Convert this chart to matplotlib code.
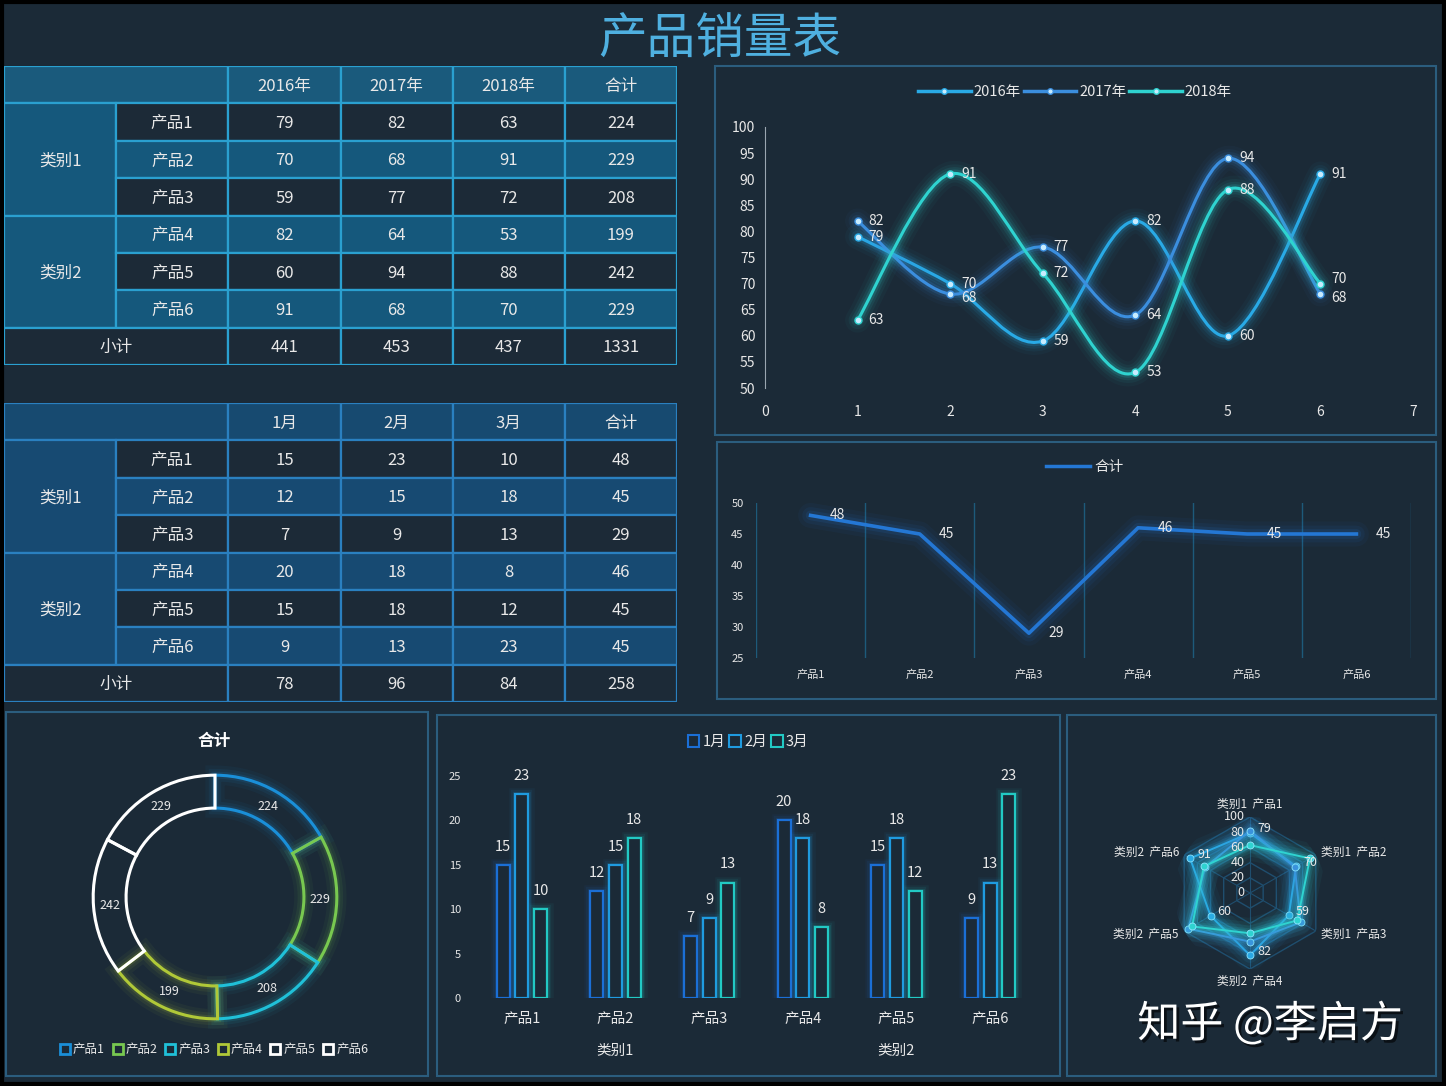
import numpy as np
import matplotlib
matplotlib.use('Agg')
import matplotlib.pyplot as plt
from matplotlib.patches import Rectangle, Patch, PathPatch
from matplotlib.path import Path
from matplotlib.lines import Line2D
import matplotlib.patheffects as pe

plt.rcParams['font.family'] = ['Noto Sans CJK SC', 'DejaVu Sans']

# ---------------- data ----------------
title = '产品销量表'
categories = ['类别1', '类别2']
products = ['产品1', '产品2', '产品3', '产品4', '产品5', '产品6']
product_cats = ['类别1', '类别1', '类别1', '类别2', '类别2', '类别2']
years = ['2016年', '2017年', '2018年']
sales_2016 = [79, 70, 59, 82, 60, 91]
sales_2017 = [82, 68, 77, 64, 94, 68]
sales_2018 = [63, 91, 72, 53, 88, 70]
year_totals = [224, 229, 208, 199, 242, 229]
year_subtotals = [441, 453, 437, 1331]
months = ['1月', '2月', '3月']
month_1 = [15, 12, 7, 20, 15, 9]
month_2 = [23, 15, 9, 18, 18, 13]
month_3 = [10, 18, 13, 8, 12, 23]
month_totals = [48, 45, 29, 46, 45, 45]
month_subtotals = [78, 96, 84, 258]
total_label = '合计'
subtotal_label = '小计'
watermark = '知乎 @李启方'

# ---------------- style ----------------
BG = '#1b2a37'
TXT = '#e8e8e8'
PANEL = '#2b5d7e'
C_YEARS = ['#29aae6', '#3b8ede', '#2fd3d0']
C_LINE2 = '#2477d4'
C_MONTHS = ['#1b6fd6', '#1f9be0', '#22c9c4']
C_DONUT = ['#1a8fd8', '#78c850', '#20c0d8', '#b0c838', '#ffffff', '#ffffff']

W, H = 1446, 1086
fig = plt.figure(figsize=(W / 100, H / 100), dpi=100, facecolor=BG)


def px_axes(x0, y0, x1, y1, **kw):
    return fig.add_axes([x0 / W, 1 - y1 / H, (x1 - x0) / W, (y1 - y0) / H], **kw)


bg = px_axes(0, 0, W, H)
bg.set_xlim(0, W)
bg.set_ylim(H, 0)
bg.axis('off')
bg.set_zorder(-10)
bg.add_patch(Rectangle((2, 2), W - 4, H - 4, fc='none', ec='black', lw=3))
for (x0, y0, x1, y1) in [(715, 66, 1436, 435), (717, 442, 1436, 699), (6, 712, 428, 1076),
                         (437, 715, 1060, 1076), (1067, 715, 1436, 1076)]:
    bg.add_patch(Rectangle((x0, y0), x1 - x0, y1 - y0, fc='none', ec=PANEL, lw=1.5))

fig.text(720 / W, 1 - 40 / H, title, ha='center', va='center', fontsize=35, color='#4fb0e0')


# ---------------- tables ----------------
def draw_table(ax, header, series, totals, subtotals, head_c, blue_c, dark_c, line_c):
    ax.set_xlim(0, 6)
    ax.set_ylim(8, 0)
    ax.axis('off')
    fs = 12

    def cell(x, y, w, h, color, text):
        ax.add_patch(Rectangle((x, y), w, h, fc=color, ec=line_c, lw=1.6))
        if text != '':
            ax.text(x + w / 2, y + h / 2 + 0.04, text, ha='center', va='center', color=TXT, fontsize=fs)

    cell(0, 0, 2, 1, head_c, '')
    for j, h in enumerate(header):
        cell(2 + j, 0, 1, 1, head_c, h)
    for k, c in enumerate(categories):
        cell(0, 1 + 3 * k, 1, 3, blue_c, c)
    for i, p in enumerate(products):
        col = dark_c if i % 2 == 0 else blue_c
        cell(1, 1 + i, 1, 1, col, p)
        for j, s in enumerate(series):
            cell(2 + j, 1 + i, 1, 1, col, str(s[i]))
        cell(5, 1 + i, 1, 1, col, str(totals[i]))
    cell(0, 7, 2, 1, dark_c, subtotal_label)
    for j, v in enumerate(subtotals):
        cell(2 + j, 7, 1, 1, dark_c, str(v))


t1 = px_axes(4, 66, 677, 365)
draw_table(t1, years + [total_label], [sales_2016, sales_2017, sales_2018], year_totals,
           year_subtotals, '#1a5a7c', '#15587c', '#1c2a37', '#2aa0d0')
t2 = px_axes(4, 403, 677, 702)
draw_table(t2, months + [total_label], [month_1, month_2, month_3], month_totals,
           month_subtotals, '#174a70', '#174a72', '#1c2a37', '#2a80c0')


# ---------------- line chart 1 (smooth) ----------------
def smooth_path(xs, ys, t=1 / 6):
    pts = np.column_stack([xs, ys]).astype(float)
    n = len(pts)
    verts = [pts[0]]
    codes = [Path.MOVETO]
    for i in range(n - 1):
        p0 = pts[i - 1] if i > 0 else pts[i]
        p1, p2 = pts[i], pts[i + 1]
        p3 = pts[i + 2] if i + 2 < n else pts[i + 1]
        verts += [p1 + (p2 - p0) * t, p2 - (p3 - p1) * t, p2]
        codes += [Path.CURVE4] * 3
    return Path(verts, codes)


ax1 = px_axes(765, 127, 1413, 388)
ax1.set_facecolor('none')
ax1.set_xlim(0, 7)
ax1.set_ylim(50, 100)
ax1.set_xticks(range(0, 8))
ax1.set_yticks(range(50, 101, 5))
for s in ['top', 'right', 'bottom']:
    ax1.spines[s].set_visible(False)
ax1.spines['left'].set_color('#9aa6b0')
ax1.tick_params(length=0, colors=TXT, labelsize=10)
ax1.tick_params(axis='y', pad=7)
ax1.tick_params(axis='x', pad=12)
xs = np.arange(1, 7)
# small vertical nudges (points) for labels that would sit on top of each other
nudges = [[0, 0, 0, 0, 0, 0], [0, -3, 0, 0, 0, -3], [0, 0, 0, 0, 0, 3]]
for vals, c, nd in zip([sales_2016, sales_2017, sales_2018], C_YEARS, nudges):
    path = smooth_path(xs, vals)
    for lw, a in [(18, 0.04), (13, 0.06), (9, 0.09), (5.5, 0.16)]:
        ax1.add_patch(PathPatch(path, fc='none', ec=c, lw=lw, alpha=a, capstyle='round'))
    ax1.add_patch(PathPatch(path, fc='none', ec=c, lw=2.2))
    ax1.plot(xs, vals, 'o', ms=5, mfc='#c8ecff', mec=c, mew=1, zorder=5)
    for x, v, d in zip(xs, vals, nd):
        ax1.annotate(str(v), (x, v), xytext=(8, d), textcoords='offset points',
                     va='center', ha='left', color=TXT, fontsize=10)
h1 = [Line2D([], [], color=c, lw=2.5, marker='o', ms=4, mfc='#c8ecff', mec=c) for c in C_YEARS]
fig.legend(h1, years, loc='center', bbox_to_anchor=(1075 / W, 1 - 92 / H), ncol=3, frameon=False,
           labelcolor=TXT, fontsize=10.5, handlelength=3.6, handletextpad=0.2, columnspacing=0.2)

# ---------------- line chart 2 ----------------
ax2 = px_axes(756, 503, 1411, 658)
ax2.set_facecolor('none')
ax2.set_xlim(0, 6)
ax2.set_ylim(25, 50)
ax2.set_yticks(range(25, 51, 5))
xc = np.arange(6) + 0.5
ax2.set_xticks(xc)
ax2.set_xticklabels(products)
ax2.set_xticks(range(7), minor=True)
ax2.grid(which='minor', axis='x', color='#1d5a7a', lw=1)
for s in ax2.spines.values():
    s.set_visible(False)
ax2.tick_params(which='both', length=0, colors=TXT, labelsize=8)
ax2.tick_params(axis='y', pad=9)
ax2.tick_params(axis='x', pad=8)
for lw, a in [(18, 0.05), (12, 0.08), (7, 0.12)]:
    ax2.plot(xc, month_totals, color=C_LINE2, lw=lw, alpha=a, solid_capstyle='round')
ax2.plot(xc, month_totals, color=C_LINE2, lw=2.6)
for x, v in zip(xc, month_totals):
    ax2.annotate(str(v), (x, v), xytext=(14, 0), textcoords='offset points',
                 va='center', ha='left', color=TXT, fontsize=10)
fig.legend([Line2D([], [], color=C_LINE2, lw=2.5)], [total_label], loc='center',
           bbox_to_anchor=(1085 / W, 1 - 467 / H), frameon=False, labelcolor=TXT, fontsize=10.5,
           handlelength=3, handletextpad=0.3)

# ---------------- donut ----------------
axd = px_axes(81, 763, 349, 1031)
axd.set_facecolor('none')
for lw, a in [(14, 0.05), (9, 0.08), (5, 0.12)]:
    ws, _ = axd.pie(year_totals, radius=1, startangle=90, counterclock=False,
                    wedgeprops=dict(width=0.27, lw=lw))
    for w, c in zip(ws, C_DONUT):
        w.set_facecolor('none')
        w.set_edgecolor(c if c != '#ffffff' else 'none')
        w.set_alpha(a)
ws, _ = axd.pie(year_totals, radius=1, startangle=90, counterclock=False,
                wedgeprops=dict(width=0.27, lw=2.2))
for w, c, v in zip(ws, C_DONUT, year_totals):
    w.set_facecolor('none')
    w.set_edgecolor(c)
    mid = np.deg2rad((w.theta1 + w.theta2) / 2)
    axd.text(0.865 * np.cos(mid), 0.865 * np.sin(mid), str(v), ha='center', va='center',
             color=TXT, fontsize=9)
axd.set_xlim(-1.1, 1.1)
axd.set_ylim(-1.1, 1.1)
axd.set_aspect('equal')
fig.text(214 / W, 1 - 741 / H, total_label, ha='center', va='center', fontsize=12,
         fontweight='bold', color='white')
hd = [Patch(fc=BG, ec=c, lw=2) for c in C_DONUT]
fig.legend(hd, products, loc='center', bbox_to_anchor=(214 / W, 1 - 1050 / H), ncol=6,
           frameon=False, labelcolor=TXT, fontsize=9, handlelength=0.8, handleheight=0.8,
           handletextpad=0.25, columnspacing=0.6)

# ---------------- bar chart ----------------
axb = px_axes(475, 776, 1037, 998)
axb.set_facecolor('none')
axb.set_xlim(-0.5, 5.5)
axb.set_ylim(0, 25)
axb.set_yticks(range(0, 26, 5))
axb.set_xticks(np.arange(6))
axb.set_xticklabels(products)
for s in axb.spines.values():
    s.set_visible(False)
axb.tick_params(length=0, colors=TXT)
axb.tick_params(axis='y', labelsize=8, pad=10)
axb.tick_params(axis='x', labelsize=10.5, pad=10)
bx = np.arange(6)
for k, (vals, c) in enumerate(zip([month_1, month_2, month_3], C_MONTHS)):
    pos = bx + (k - 1) * 0.2
    for lw, a in [(9, 0.05), (6, 0.08), (3.5, 0.14)]:
        axb.bar(pos, vals, width=0.14, fc='none', ec=c, lw=lw, alpha=a)
    cont = axb.bar(pos, vals, width=0.14, fc=BG, ec=c, lw=1.6)
    axb.bar_label(cont, padding=8, color=TXT, fontsize=10.5)
axb.annotate(categories[0], (1, 0), xycoords=('data', 'axes fraction'), xytext=(0, -53),
             textcoords='offset pixels', ha='center', va='center', color=TXT, fontsize=10.5)
axb.annotate(categories[1], (4, 0), xycoords=('data', 'axes fraction'), xytext=(0, -53),
             textcoords='offset pixels', ha='center', va='center', color=TXT, fontsize=10.5)
hb = [Patch(fc=BG, ec=c, lw=1.5) for c in C_MONTHS]
fig.legend(hb, months, loc='center', bbox_to_anchor=(748 / W, 1 - 742 / H), ncol=3,
           frameon=False, labelcolor=TXT, fontsize=10.5, handlelength=0.8, handleheight=0.8,
           handletextpad=0.2, columnspacing=0.3)

# ---------------- radar ----------------
axr = px_axes(1250 - 76, 893 - 76, 1250 + 76, 893 + 76, projection='polar')
axr.set_facecolor('none')
axr.set_theta_offset(np.pi / 2)
axr.set_theta_direction(-1)
axr.set_ylim(0, 100)
axr.grid(False)
axr.spines['polar'].set_visible(False)
axr.set_xticks([])
axr.set_yticks([])
ang = np.linspace(0, 2 * np.pi, 7)
levels = [0, 20, 40, 60, 80, 100]
for lv in levels[1:]:
    axr.plot(ang, [lv] * 7, color='#1f4e6e', lw=1)
for a in ang[:-1]:
    axr.plot([a, a], [0, 100], color='#1f4e6e', lw=0.8)
for vals, c in zip([sales_2016, sales_2017, sales_2018], C_YEARS):
    vv = list(vals) + [vals[0]]
    for lw, a in [(22, 0.05), (16, 0.07), (11, 0.09), (7, 0.13), (4, 0.2)]:
        axr.plot(ang, vv, color=c, lw=lw, alpha=a, solid_joinstyle='round')
    axr.plot(ang, vv, color=c, lw=1.4)
    axr.plot(ang[:-1], vals, 'o', ms=5, color=c, mec='#8fe6ff', mew=0.6)
for lv in levels:
    axr.annotate(str(lv), (0, lv), xytext=(-4, 0), textcoords='offset points', ha='right',
                 va='center', color=TXT, fontsize=9)
for a, v in zip(ang[:-1], sales_2016):
    axr.annotate(str(v), (a, v), xytext=(5, 3), textcoords='offset points', ha='left',
                 va='center', color=TXT, fontsize=9)
for a, c, p in zip(ang[:-1], product_cats, products):
    lab = f'{c}  {p}'
    deg = np.rad2deg(a)
    if deg < 1:
        ha, va = 'center', 'bottom'
    elif abs(deg - 180) < 1:
        ha, va = 'center', 'top'
    elif deg < 180:
        ha, va = 'left', 'center'
    else:
        ha, va = 'right', 'center'
    axr.text(a, 108, lab, ha=ha, va=va, color=TXT, fontsize=8.5)

fig.text(1270 / W, 1 - 1025 / H, watermark, ha='center', va='center', fontsize=31,
         color='white', path_effects=[pe.withSimplePatchShadow(offset=(2, -2), shadow_rgbFace='black', alpha=0.6)])

fig.savefig('out.png', dpi=100, facecolor=BG)
